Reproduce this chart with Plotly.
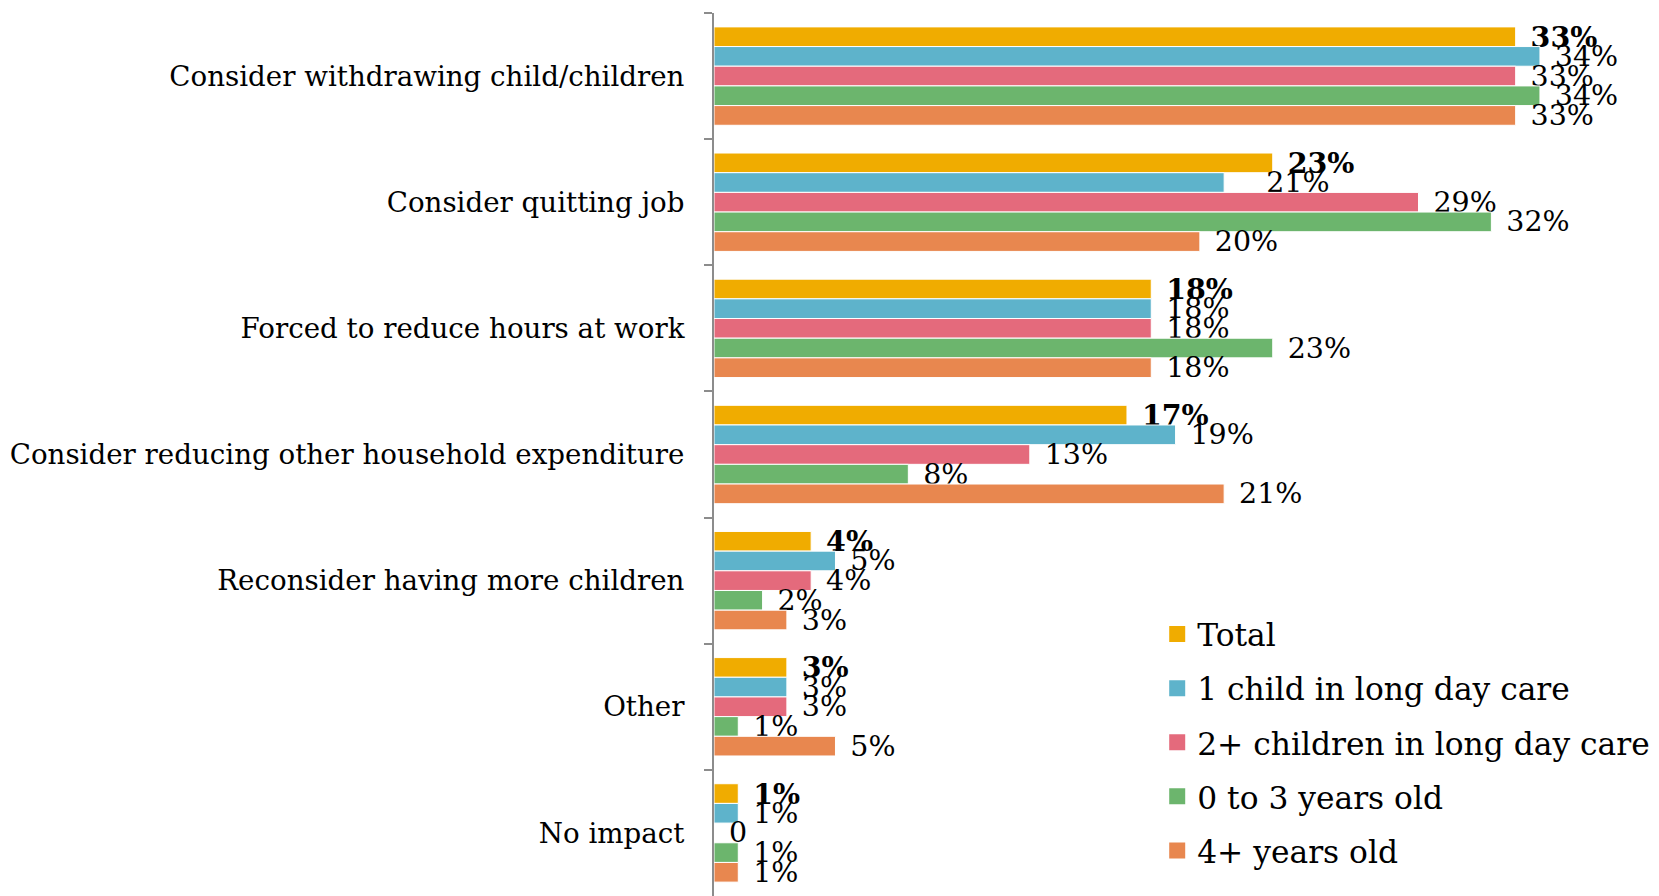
import plotly.graph_objects as go

categories = [
    "Consider withdrawing child/children",
    "Consider quitting job",
    "Forced to reduce hours at work",
    "Consider reducing other household expenditure",
    "Reconsider having more children",
    "Other",
    "No impact",
]
series_names = [
    "Total",
    "1 child in long day care",
    "2+ children in long day care",
    "0 to 3 years old",
    "4+ years old",
]
total = [33, 23, 18, 17, 4, 3, 1]
one_child = [34, 21, 18, 19, 5, 3, 1]
two_plus = [33, 29, 18, 13, 4, 3, 0]
age_0_3 = [34, 32, 23, 8, 2, 1, 1]
age_4_plus = [33, 20, 18, 21, 3, 5, 1]
series_values = [total, one_child, two_plus, age_0_3, age_4_plus]

colors = ["#F0AC00", "#5EB3CB", "#E46A7C", "#6CB56D", "#E8874F"]
FONT = "DejaVu Serif"
PAD = "\u00a0\u200a"
# one label in the reference sits further right than the others
extra_pad = {(1, 1): "\u00a0\u00a0\u00a0"}

fig = go.Figure()
for i, (name, vals) in enumerate(zip(series_names, series_values)):
    texts = []
    for j, v in enumerate(vals):
        t = "0" if v == 0 else f"{v}%"
        if i == 0:
            t = f"<b>{t}</b>"
        texts.append(PAD + extra_pad.get((i, j), "") + t)
    fig.add_trace(go.Bar(
        name=name,
        y=categories,
        x=vals,
        orientation="h",
        marker=dict(color=colors[i], line=dict(color="white", width=1)),
        text=texts,
        textposition="outside",
        cliponaxis=False,
        constraintext="none",
        textfont=dict(family=FONT, size=28.5, color="black"),
        showlegend=False,
        legendgroup=name,
    ))
    # legend entry with a larger square swatch
    fig.add_trace(go.Scatter(
        name=name,
        x=[None],
        y=[None],
        mode="markers",
        marker=dict(symbol="square", size=16, color=colors[i]),
        showlegend=True,
        legendgroup=name,
        hoverinfo="skip",
    ))

fig.update_layout(
    width=1651,
    height=888,
    barmode="group",
    bargap=0.22,
    bargroupgap=0,
    plot_bgcolor="white",
    paper_bgcolor="white",
    margin=dict(l=706, r=0, t=5, b=0, autoexpand=False),
    font=dict(family=FONT, size=28, color="black"),
    showlegend=True,
    legend=dict(
        x=0.469, y=0.327, xanchor="left", yanchor="top",
        font=dict(family=FONT, size=31.3, color="black"),
        itemsizing="trace",
        tracegroupgap=10.4,
        bgcolor="rgba(0,0,0,0)",
    ),
    xaxis=dict(
        range=[0, 38.9],
        visible=False,
        showgrid=False,
        zeroline=False,
        automargin=False,
    ),
    yaxis=dict(
        autorange="reversed",
        automargin=False,
        showline=True,
        linecolor="#8C8C8C",
        linewidth=2,
        ticks="outside",
        tickson="boundaries",
        ticklen=8,
        tickwidth=2,
        tickcolor="#8C8C8C",
        showgrid=False,
        ticklabelstandoff=22,
        tickfont=dict(family=FONT, size=27.7, color="black"),
    ),
)

fig.write_html("out.html")
